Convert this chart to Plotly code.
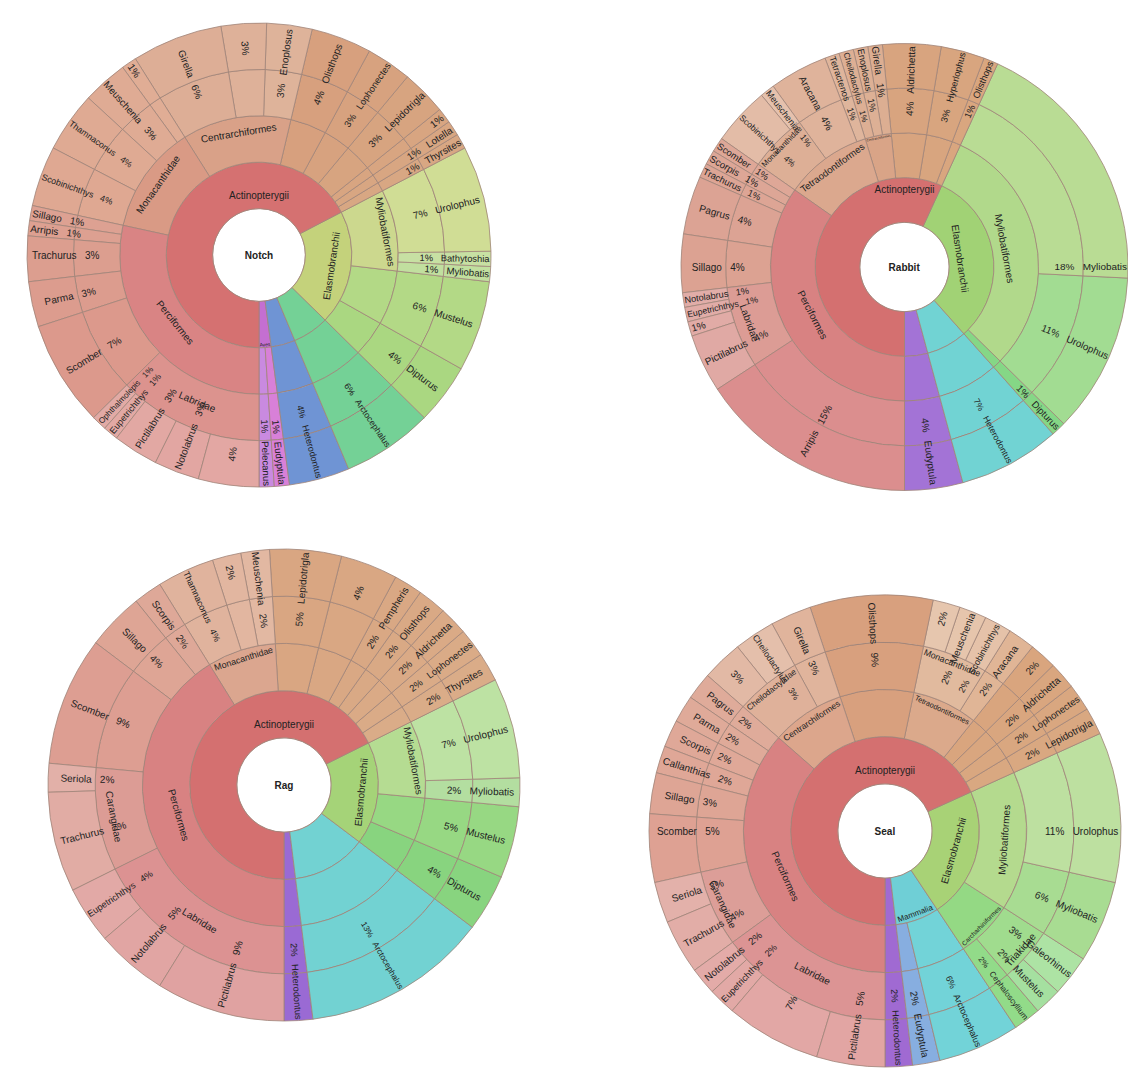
import plotly.graph_objects as go

FONT = "Liberation Sans, Arial, Helvetica, sans-serif"

# ---------------- data (leaves listed clockwise from 6 o'clock) ----------------
# path = class|order|family|genus ; empty = collapsed / unnamed level
NOTCH_TAXA = [
    "Actinopterygii|Perciformes|Labridae|",
    "Actinopterygii|Perciformes|Labridae|Notolabrus",
    "Actinopterygii|Perciformes|Labridae|Pictilabrus",
    "Actinopterygii|Perciformes|Labridae|Eupetrichthys",
    "Actinopterygii|Perciformes|Labridae|Ophthalmolepis",
    "Actinopterygii|Perciformes||Scomber",
    "Actinopterygii|Perciformes||Parma",
    "Actinopterygii|Perciformes||Trachurus",
    "Actinopterygii|Perciformes||Arripis",
    "Actinopterygii|Perciformes||Sillago",
    "Actinopterygii|Monacanthidae||Scobinichthys",
    "Actinopterygii|Monacanthidae||Thamnaconus",
    "Actinopterygii|Monacanthidae||Meuschenia",
    "Actinopterygii|Monacanthidae||",
    "Actinopterygii|Centrarchiformes||Girella",
    "Actinopterygii|Centrarchiformes||",
    "Actinopterygii|Centrarchiformes||Enoplosus",
    "Actinopterygii|||Olisthops",
    "Actinopterygii|||Lophonectes",
    "Actinopterygii|||Lepidotrigla",
    "Actinopterygii|||",
    "Actinopterygii|||Lotella",
    "Actinopterygii|||Thyrsites",
    "Elasmobranchii|Myliobatiformes||Urolophus",
    "Elasmobranchii|Myliobatiformes||Bathytoshia",
    "Elasmobranchii|Myliobatiformes||Myliobatis",
    "Elasmobranchii|||Mustelus",
    "Elasmobranchii|||Dipturus",
    "|||Arctocephalus",
    "|||Heterodontus",
    "Aves|||Eudyptula",
    "Aves|||Pelecanus",
]
NOTCH_PCT = [4, 3, 3, 1, 1, 7, 3, 3, 1, 1, 4, 4, 3, 1, 6, 3, 3, 4, 3, 3, 1, 1, 1,
             7, 1, 1, 6, 4, 6, 4, 1, 1]

RABBIT_TAXA = [
    "Actinopterygii|Perciformes||Arripis",
    "Actinopterygii|Perciformes|Labridae|Pictilabrus",
    "Actinopterygii|Perciformes|Labridae|",
    "Actinopterygii|Perciformes|Labridae|Eupetrichthys",
    "Actinopterygii|Perciformes|Labridae|Notolabrus",
    "Actinopterygii|Perciformes||Sillago",
    "Actinopterygii|Perciformes||Pagrus",
    "Actinopterygii|Perciformes||Trachurus",
    "Actinopterygii|Perciformes||Scorpis",
    "Actinopterygii|Perciformes||Scomber",
    "Actinopterygii|Tetraodontiformes|Monacanthidae|Scobinichthys",
    "Actinopterygii|Tetraodontiformes|Monacanthidae|Meuschenia",
    "Actinopterygii|Tetraodontiformes||Aracana",
    "Actinopterygii|Tetraodontiformes||Tetractenos",
    "Actinopterygii|Centrarchiformes||Cheilodactylus",
    "Actinopterygii|Centrarchiformes||Enoplosus",
    "Actinopterygii|Centrarchiformes||Girella",
    "Actinopterygii|||Aldrichetta",
    "Actinopterygii|||Hyperlophus",
    "Actinopterygii|||Olisthops",
    "Elasmobranchii|Myliobatiformes||Myliobatis",
    "Elasmobranchii|Myliobatiformes||Urolophus",
    "Elasmobranchii|||Dipturus",
    "|||Heterodontus",
    "|||Eudyptula",
]
RABBIT_PCT = [15, 4, 1, 1, 1, 4, 4, 1, 1, 1, 4, 1, 4, 1, 1, 1, 1, 4, 3, 1,
              18, 11, 1, 7, 4]

RAG_TAXA = [
    "Actinopterygii|Perciformes|Labridae|Pictilabrus",
    "Actinopterygii|Perciformes|Labridae|Notolabrus",
    "Actinopterygii|Perciformes|Labridae|Eupetrichthys",
    "Actinopterygii|Perciformes|Carangidae|Trachurus",
    "Actinopterygii|Perciformes|Carangidae|Seriola",
    "Actinopterygii|Perciformes||Scomber",
    "Actinopterygii|Perciformes||Sillago",
    "Actinopterygii|Perciformes||Scorpis",
    "Actinopterygii|Monacanthidae||Thamnaconus",
    "Actinopterygii|Monacanthidae||",
    "Actinopterygii|Monacanthidae||Meuschenia",
    "Actinopterygii|||Lepidotrigla",
    "Actinopterygii|||",
    "Actinopterygii|||Pempheris",
    "Actinopterygii|||Olisthops",
    "Actinopterygii|||Aldrichetta",
    "Actinopterygii|||Lophonectes",
    "Actinopterygii|||Thyrsites",
    "Elasmobranchii|Myliobatiformes||Urolophus",
    "Elasmobranchii|Myliobatiformes||Myliobatis",
    "Elasmobranchii|||Mustelus",
    "Elasmobranchii|||Dipturus",
    "|||Arctocephalus",
    "|||Heterodontus",
]
RAG_PCT = [9, 5, 4, 7, 2, 9, 4, 2, 4, 2, 2, 5, 4, 2, 2, 2, 2, 2, 7, 2, 5, 4, 13, 2]

SEAL_TAXA = [
    "Actinopterygii|Perciformes|Labridae|Pictilabrus",
    "Actinopterygii|Perciformes|Labridae|",
    "Actinopterygii|Perciformes|Labridae|Eupetrichthys",
    "Actinopterygii|Perciformes|Labridae|Notolabrus",
    "Actinopterygii|Perciformes|Carangidae|Trachurus",
    "Actinopterygii|Perciformes|Carangidae|Seriola",
    "Actinopterygii|Perciformes||Scomber",
    "Actinopterygii|Perciformes||Sillago",
    "Actinopterygii|Perciformes||Callanthias",
    "Actinopterygii|Perciformes||Scorpis",
    "Actinopterygii|Perciformes||Parma",
    "Actinopterygii|Perciformes||Pagrus",
    "Actinopterygii|Centrarchiformes|Cheilodactylidae|",
    "Actinopterygii|Centrarchiformes|Cheilodactylidae|Cheilodactylus",
    "Actinopterygii|Centrarchiformes||Girella",
    "Actinopterygii|||Olisthops",
    "Actinopterygii|Tetraodontiformes|Monacanthidae|",
    "Actinopterygii|Tetraodontiformes|Monacanthidae|Meuschenia",
    "Actinopterygii|Tetraodontiformes|Monacanthidae|Scobinichthys",
    "Actinopterygii|Tetraodontiformes||Aracana",
    "Actinopterygii|||",
    "Actinopterygii|||Aldrichetta",
    "Actinopterygii|||Lophonectes",
    "Actinopterygii|||Lepidotrigla",
    "Elasmobranchii|Myliobatiformes||Urolophus",
    "Elasmobranchii|Myliobatiformes||Myliobatis",
    "Elasmobranchii|Carcharhiniformes|Triakidae|Galeorhinus",
    "Elasmobranchii|Carcharhiniformes|Triakidae|Mustelus",
    "Elasmobranchii|Carcharhiniformes||Cephaloscyllium",
    "Mammalia|||Arctocephalus",
    "Mammalia|||Eudyptula",
    "|||Heterodontus",
]
SEAL_PCT = [5, 7, 2, 2, 4, 3, 5, 3, 2, 2, 2, 2, 3, 3, 3, 9, 2, 2, 2, 2, 2, 2, 2, 2,
            11, 6, 3, 2, 2, 6, 2, 2]

# ---------------- styles ----------------
NOTCH_LEAF_COLORS = [
    "#e3a7a3", "#e2a6a2", "#e2a8a3", "#e2a9a4", "#e2aaa5",
    "#dc998c", "#dc9c8e", "#dc9e8f", "#dda091", "#dda192",
    "#dfa892", "#dfaa93", "#dfab94", "#e0ad95",
    "#ddae96", "#deb199", "#deb39a",
    "#d7a07e", "#d7a27f", "#d7a480", "#d8a581", "#d8a682", "#d8a783",
    "#d0dd95", "#c7e0a3", "#c1df9f", "#b3d986", "#aad781",
    "#74d196", "#6f94d4", "#d880d8", "#c98ae0",
]
NOTCH_NODE_COLORS = {
    "Actinopterygii": "#d57171", "Perciformes": "#d98484", "Labridae": "#dc938e",
    "Monacanthidae": "#d99a85", "Centrarchiformes": "#d9a188",
    "Elasmobranchii": "#c4d27b", "Myliobatiformes": "#ccd88e", "Aves": "#c46fd1",
}
RABBIT_LEAF_COLORS = [
    "#db8e8e", "#e0a9a4", "#e1aba6", "#e1aca7", "#e1ada8",
    "#dca292", "#dca394", "#dda595", "#dda696", "#dea797",
    "#e3bca7", "#e5c1ad", "#dfb39b", "#dfb59c",
    "#ddaf94", "#ddb095", "#dcae92",
    "#d8a47f", "#d8a57f", "#d9a67f",
    "#b9dc94", "#a2dc92", "#85d786", "#71d3d3", "#a373d6",
]
RABBIT_NODE_COLORS = {
    "Actinopterygii": "#d47070", "Perciformes": "#d88282", "Labridae": "#dc9c95",
    "Tetraodontiformes": "#dba88e", "Monacanthidae": "#ddaf96",
    "Centrarchiformes": "#d9a487", "Elasmobranchii": "#a1d275",
    "Myliobatiformes": "#b1d98b",
}
RAG_LEAF_COLORS = [
    "#e0a2a1", "#e1a5a3", "#e2a9a6", "#e1aca4", "#e2b0a8",
    "#dd9e92", "#dea595", "#dea898",
    "#e0b39d", "#e2b6a0", "#e2b8a2",
    "#d9a682", "#d9a783", "#d9a884", "#d9a985", "#daaa86", "#daab87", "#daac88",
    "#bde2a3", "#b3dea0", "#97d883", "#88d47f", "#72d2d2", "#9a6ad4",
]
RAG_NODE_COLORS = {
    "Actinopterygii": "#d47070", "Perciformes": "#d88282", "Labridae": "#dc9292",
    "Carangidae": "#dc9c95", "Monacanthidae": "#dba68f",
    "Elasmobranchii": "#a5d378", "Myliobatiformes": "#b5dc92",
}
SEAL_LEAF_COLORS = [
    "#e2a5a3", "#e2a7a5", "#e2a9a6", "#e3aba8", "#e2ada7", "#e3b1aa",
    "#dea193", "#dea595", "#dfa797", "#dfa898", "#dfaa99", "#dfab9a",
    "#e2b9a5", "#e4bfab", "#e0b49c", "#d8a07e",
    "#e6c6ae", "#e6c5ac", "#e5c2a9", "#e0b596",
    "#d9a57e", "#d9a67f", "#d9a780", "#d9a881",
    "#bde0a0", "#a8dc92", "#ade3a4", "#a5e0a0", "#92db89",
    "#72d3d8", "#87aee0", "#a06ad2",
]
SEAL_NODE_COLORS = {
    "Actinopterygii": "#d47070", "Perciformes": "#d88282", "Labridae": "#dc9494",
    "Carangidae": "#dc9e98", "Centrarchiformes": "#dca68c",
    "Cheilodactylidae": "#dfb19a", "Tetraodontiformes": "#dba98b",
    "Monacanthidae": "#e1ba9e", "Elasmobranchii": "#a8d276",
    "Myliobatiformes": "#b4da8e", "Carcharhiniformes": "#94d984",
    "Triakidae": "#a0dc8e", "Mammalia": "#6fcfd6",
}

# page-pixel placement of each wheel: centre x, centre y, radius
PAGE_MARGIN = 8
FIG_W, FIG_H = 1120, 1072
PLACE = {
    "Notch": (259, 255, 232),
    "Rabbit": (912, 267, 231),
    "Rag": (284, 785, 236),
    "Seal": (885, 831, 236),
}
LINE = "#a08478"
INK = "#222222"
GHOST = "rgba(0,0,0,0)"
PLACEHOLDER = "."   # invisible filler so every slice has measurable text


def domain(name):
    cx, cy, r = PLACE[name]
    x0 = max(0.0, (cx - r - PAGE_MARGIN) / FIG_W)
    x1 = min(1.0, (cx + r - PAGE_MARGIN) / FIG_W)
    y0 = max(0.0, 1 - (cy + r - PAGE_MARGIN) / FIG_H)
    y1 = min(1.0, 1 - (cy - r - PAGE_MARGIN) / FIG_H)
    return dict(x=[x0, x1], y=[y0, y1])


def wheel(fig, name, taxa, pct, leaf_colors, node_colors):
    total = float(sum(pct))
    mids, cum = [], 0.0
    for v in pct:
        mids.append((cum + v / 2) / total)
        cum += v
    # plotly lays siblings out counter-clockwise, so feed the clockwise list reversed
    order = list(range(len(taxa)))[::-1]
    dom = domain(name)

    # --- coloured wheel with the inner (taxon) labels, written tangentially
    ids, parents, texts, tcol, colors, values = [name], [""], [f"<b>{name}</b>"], [INK], ["white"], [0]
    seen = set()
    for i in order:
        parts = taxa[i].split("|")
        parent = name
        for d, nm in enumerate(parts):
            last = d == len(parts) - 1
            named = bool(nm) and not last
            nid = parent + "/" + (nm if named else f"~{i}")
            if nid not in seen:
                seen.add(nid)
                ids.append(nid)
                parents.append(parent)
                values.append(pct[i] if last else 0)
                texts.append(nm if named else PLACEHOLDER)
                tcol.append(INK if named else GHOST)
                colors.append(node_colors.get(nm, leaf_colors[i]) if named else leaf_colors[i])
            parent = nid
    fig.add_trace(go.Sunburst(
        ids=ids, labels=ids, parents=parents, values=values,
        text=texts, textinfo="text",
        branchvalues="remainder", sort=False, rotation=-90,
        marker=dict(colors=colors, line=dict(color=LINE, width=0.8)),
        leaf=dict(opacity=1), insidetextorientation="tangential",
        insidetextfont=dict(family=FONT, size=10, color=tcol),
        domain=dom, hoverinfo="none",
    ))

    # --- leaf labels: transparent overlay whose leaf ring spans the outer third
    lids, lpar, ltxt, lcol, lval = [name + ":r", name + ":p"], ["", name + ":r"], \
        ["", PLACEHOLDER], [GHOST] * 2, [0, 0]
    for i in order:
        genus = taxa[i].split("|")[-1]
        p = f"{pct[i]:g}%"
        if genus:
            t = f"{genus}\u00a0\u00a0 {p}" if mids[i] < 0.5 else f"{p}\u00a0\u00a0 {genus}"
        else:
            t = p
        lids.append(f"{name}:l{i}")
        lpar.append(name + ":p")
        ltxt.append(t)
        lcol.append(INK)
        lval.append(pct[i])
    fig.add_trace(go.Sunburst(
        ids=lids, labels=lids, parents=lpar, values=lval,
        text=ltxt, textinfo="text",
        branchvalues="remainder", sort=False, rotation=-90,
        marker=dict(colors=[GHOST] * len(lids), line=dict(color=GHOST, width=0)),
        leaf=dict(opacity=1), insidetextorientation="radial",
        insidetextfont=dict(family=FONT, size=10, color=lcol),
        domain=dom, hoverinfo="none",
    ))


fig = go.Figure()
wheel(fig, "Notch", NOTCH_TAXA, NOTCH_PCT, NOTCH_LEAF_COLORS, NOTCH_NODE_COLORS)
wheel(fig, "Rabbit", RABBIT_TAXA, RABBIT_PCT, RABBIT_LEAF_COLORS, RABBIT_NODE_COLORS)
wheel(fig, "Rag", RAG_TAXA, RAG_PCT, RAG_LEAF_COLORS, RAG_NODE_COLORS)
wheel(fig, "Seal", SEAL_TAXA, SEAL_PCT, SEAL_LEAF_COLORS, SEAL_NODE_COLORS)

fig.update_layout(
    width=FIG_W, height=FIG_H, margin=dict(l=0, r=0, t=0, b=0),
    paper_bgcolor="white", showlegend=False,
    font=dict(family=FONT, size=10, color=INK),
)
fig.write_html("out.html")
